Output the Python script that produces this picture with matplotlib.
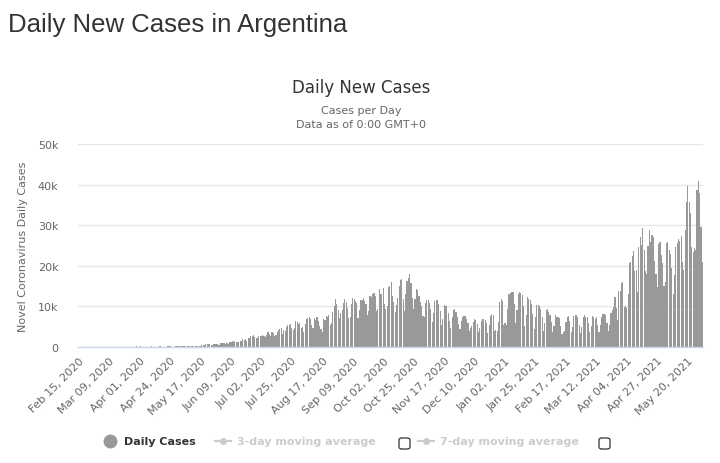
import matplotlib
matplotlib.use("Agg")
import matplotlib.pyplot as plt
import pandas as pd
from matplotlib.lines import Line2D
from matplotlib.patches import FancyBboxPatch

# ---- data (daily new cases) ----
feb_2020 = [0] * 15
mar_2020 = [0, 0, 1, 0, 0, 1, 6, 1, 2, 5, 2, 12, 3, 11, 11, 9, 14, 19, 18, 31,
            30, 41, 67, 36, 86, 115, 87, 101, 55, 146, 88]
apr_2020 = [79, 132, 113, 101, 123, 80, 75, 87, 113, 126, 101, 82, 78, 89, 101,
            162, 143, 115, 81, 112, 120, 144, 152, 173, 111, 105, 97, 138, 124, 147]
may_2020 = [100, 174, 181, 190, 152, 265, 239, 240, 206, 241, 165, 285, 316, 345,
            321, 249, 296, 420, 485, 474, 639, 718, 706, 704, 552, 535, 734, 717,
            692, 795, 556]
jun_2020 = [904, 983, 949, 929, 840, 1057, 735, 1141, 1226, 1386, 1275, 1391, 1226,
            1282, 1208, 1374, 1393, 1958, 1634, 2060, 1581, 2146, 2285, 2635, 2606,
            2886, 2401, 2189, 2262, 2632]
jul_2020 = [2667, 2744, 2845, 2590, 2439, 2979, 3604, 3099, 2591, 3663, 3449, 2657,
            2973, 3645, 4250, 4518, 4616, 3223, 4231, 3937, 4890, 5344, 5493, 5782,
            4792, 4190, 4784, 6377, 6134, 5641, 5929]
aug_2020 = [4733, 4824, 3645, 5641, 6792, 7147, 7369, 6985, 5376, 4688, 7043, 6663,
            7498, 6365, 5241, 4528, 3645, 6840, 6693, 7513, 7498, 7900, 5500, 6000,
            8713, 10104, 11717, 10550, 9230, 7187, 8432]
sep_2020 = [9230, 10933, 11717, 11200, 9608, 7187, 7498, 10504, 12026, 11905, 11300,
            10776, 7243, 9056, 11674, 11600, 11946, 11400, 10712, 7892, 8782, 12625,
            12400, 12982, 13200, 12608, 8841, 9309, 14392, 13041]
oct_2020 = [13041, 14453, 10617, 9245, 10217, 14740, 15099, 16047, 12509, 11136,
            8643, 10283, 12000, 14932, 16546, 16730, 11775, 8875, 12982, 16337,
            17096, 17900, 15718, 11968, 9253, 11807, 14308, 13952, 12545, 11099,
            10000]
nov_2020 = [7631, 7428, 10952, 11600, 11541, 10880, 9450, 6137, 8317, 11223, 11603,
            11659, 10652, 8813, 5331, 6839, 10290, 10149, 10200, 8300, 6300, 4600,
            7400, 9200, 9400, 8700, 7300, 5600, 4400, 6400]
dec_2020 = [7300, 7700, 7600, 7000, 5900, 3900, 4800, 5200, 6200, 6800, 6700, 5600,
            3600, 4600, 6400, 6900, 6900, 6600, 5900, 3400, 5300, 7600, 8100, 8000,
            3900, 4100, 3900, 6200, 11100, 11800, 11400]
jan_2021 = [5400, 6000, 5500, 9400, 13000, 13300, 13500, 13500, 10500, 6000, 9000,
            13100, 13500, 13300, 12900, 10000, 5200, 8000, 12400, 11800, 11500, 10500,
            8200, 4500, 7300, 10400, 10400, 10000, 9400, 7400, 4000]
feb_2021 = [5900, 9100, 9400, 8500, 7800, 6200, 3600, 5100, 7900, 7500, 7300, 7200,
            5200, 3300, 3600, 4000, 6200, 7500, 7700, 6500, 3800, 5000, 7700, 7900,
            7800, 7500, 5500, 3400]
mar_2021 = [5000, 7300, 7800, 7500, 7500, 5800, 3600, 5100, 7600, 7300, 7000, 7300,
            5500, 3700, 5300, 7500, 8100, 8100, 7800, 6000, 4000, 5500, 8400, 9000,
            9900, 12300, 9500, 6600, 13700, 13700, 15800]
apr_2021 = [16000, 9800, 10000, 9600, 13000, 20800, 20900, 22400, 23600, 18700,
            19000, 13500, 24600, 27000, 25100, 29300, 23800, 18800, 18000, 25000,
            28900, 25800, 27500, 27200, 21300, 18000, 14800, 25400, 25800, 22600]
may_2021 = [20800, 15000, 16000, 25600, 25800, 24000, 22800, 19500, 13000, 17800,
            24600, 25600, 26500, 26000, 27300, 21000, 19000, 28700, 35600, 39700,
            35800, 33000, 24600, 23500, 24400, 24000, 38700, 41000, 38000, 29600,
            21000]

daily_cases = (feb_2020 + mar_2020 + apr_2020 + may_2020 + jun_2020 + jul_2020 +
               aug_2020 + sep_2020 + oct_2020 + nov_2020 + dec_2020 + jan_2021 +
               feb_2021 + mar_2021 + apr_2021 + may_2021)
dates = pd.date_range("2020-02-15", periods=len(daily_cases), freq="D")
tick_step = 23
y_ticks = [0, 10000, 20000, 30000, 40000, 50000]
y_tick_labels = ["0", "10k", "20k", "30k", "40k", "50k"]

# ---- figure ----
W, H = 720, 464
fig = plt.figure(figsize=(W / 100, H / 100), dpi=100)
ax = fig.add_axes([78 / W, 1 - 348 / H, (703 - 78) / W, (348 - 145) / H])

x = list(range(len(daily_cases)))
ax.bar(x, daily_cases, width=0.85, color="#999999", linewidth=0)

ax.set_xlim(-0.5, len(daily_cases) - 0.5)
ax.set_ylim(0, 50000)
ax.set_yticks(y_ticks)
ax.set_yticklabels(y_tick_labels, fontsize=8, color="#666666", family="DejaVu Sans")
ax.grid(axis="y", color="#e6e6e6", linewidth=1)
ax.set_axisbelow(True)

tick_pos = x[::tick_step]
ax.set_xticks(tick_pos)
ax.set_xticklabels([dates[i].strftime("%b %d, %Y") for i in tick_pos],
                   rotation=45, ha="right", va="top", rotation_mode="anchor",
                   fontsize=8, color="#666666", family="DejaVu Sans")
ax.tick_params(axis="y", length=0, pad=14)
ax.tick_params(axis="x", length=0, pad=6)

for s in ["top", "right", "left"]:
    ax.spines[s].set_visible(False)
ax.spines["bottom"].set_color("#ccd6eb")
ax.spines["bottom"].set_linewidth(1)

ax.set_ylabel("Novel Coronavirus Daily Cases", fontsize=8, color="#666666",
              family="DejaVu Sans")
ax.yaxis.set_label_coords((28 - 78) / (703 - 78), 0.5)

# ---- titles ----
fig.text(8 / W, 1 - 25 / H, "Daily New Cases in Argentina", fontsize=18.5,
         color="#333333", family="Liberation Sans", ha="left", va="center")
fig.text(361 / W, 1 - 88 / H, "Daily New Cases", fontsize=12, color="#333333",
         family="DejaVu Sans", ha="center", va="center")
fig.text(361 / W, 1 - 111 / H, "Cases per Day", fontsize=8, color="#666666",
         family="DejaVu Sans", ha="center", va="center")
fig.text(361 / W, 1 - 125 / H, "Data as of 0:00 GMT+0", fontsize=8, color="#666666",
         family="DejaVu Sans", ha="center", va="center")

# ---- legend ----
ly = 1 - 442 / H
fig.add_artist(Line2D([110 / W], [ly], marker="o", markersize=9, color="#999999",
                      linestyle="none", transform=fig.transFigure))
fig.text(124 / W, ly, "Daily Cases", fontsize=8, fontweight="bold",
         color="#333333", family="DejaVu Sans", ha="left", va="center")

for x0, label, bx in [(215, "3-day moving average", 399),
                      (418, "7-day moving average", 599)]:
    fig.add_artist(Line2D([x0 / W, (x0 + 16) / W], [ly, ly], color="#cccccc",
                          linewidth=1.5, transform=fig.transFigure))
    fig.add_artist(Line2D([(x0 + 8) / W], [ly], marker="o", markersize=4,
                          color="#cccccc", linestyle="none",
                          transform=fig.transFigure))
    fig.text((x0 + 22) / W, ly, label, fontsize=8, fontweight="bold",
             color="#cccccc", family="DejaVu Sans", ha="left", va="center")
    fig.add_artist(FancyBboxPatch((bx / W, 1 - 450 / H), 11 / W, 11 / H,
                                  boxstyle="round,pad=0,rounding_size=0.004",
                                  facecolor="white", edgecolor="#333333",
                                  linewidth=0.9, transform=fig.transFigure))

fig.savefig("out.png", dpi=100, facecolor="white")
